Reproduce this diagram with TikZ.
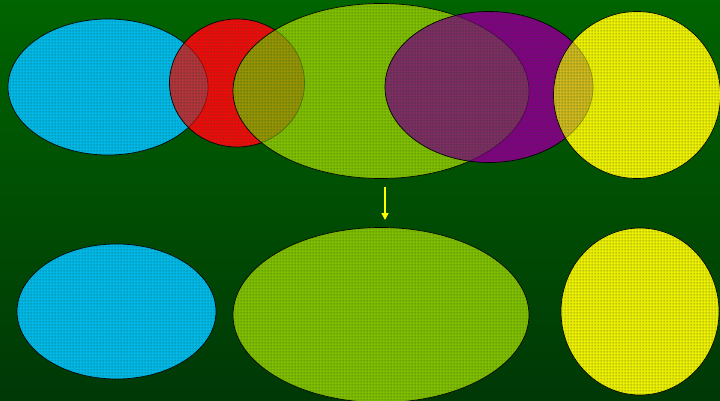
\documentclass[tikz,border=0pt]{standalone}
\usetikzlibrary{shapes.geometric,patterns.meta,arrows.meta,calc}

\definecolor{bgtop}{RGB}{0,100,0}
\definecolor{bgbot}{RGB}{0,56,6}
\definecolor{meshline}{RGB}{20,80,40}
\definecolor{cyanfill}{RGB}{0,185,235}
\definecolor{redfill}{RGB}{240,10,10}
\definecolor{greenfill}{RGB}{130,190,0}
\definecolor{purplefill}{RGB}{130,0,130}
\definecolor{yellowfill}{RGB}{240,240,0}
\definecolor{arrowyellow}{RGB}{255,255,0}

\pgfdeclarelayer{backdrop}
\pgfdeclarelayer{base}
\pgfsetlayers{backdrop,base,main}

% fine square mesh laid over every blob
\tikzdeclarepattern{
  name=mesh,
  type=uncolored,
  bounding box={(0,0) and (3pt,3pt)},
  tile size={(3pt,3pt)},
  code={
    \draw[line width=0.7pt] (0pt,1.5pt) -- (3pt,1.5pt);
    \draw[line width=0.7pt] (1.5pt,0pt) -- (1.5pt,3pt);
  }
}

\tikzset{
  blob/.style={ellipse, draw=black, line width=0.7pt, inner sep=0pt, outer sep=0pt,
    fill=#1, fill opacity=0.62, draw opacity=1,
    postaction={pattern=mesh, pattern color=meshline, fill opacity=0.4}},
  flow/.style={draw=arrowyellow, line width=1.4pt, -{Triangle[length=7pt,width=7pt]}}
}

\begin{document}
\begin{tikzpicture}[x=1pt,y=-1pt]
  \begin{pgfonlayer}{backdrop}
    \shade[top color=bgtop, bottom color=bgbot] (0,0) rectangle (720,401);
  \end{pgfonlayer}
  \useasboundingbox (0,0) rectangle (720,401);

  % upper row of overlapping sets
  \node[blob=cyanfill,   minimum width=200pt, minimum height=136pt] (c1) at (108,87) {};
  \node[blob=redfill,    minimum width=135pt, minimum height=128pt] (r1) at (237,83) {};
  \node[blob=greenfill,  minimum width=296pt, minimum height=175pt] (g1) at (381,91) {};
  \node[blob=purplefill, minimum width=208pt, minimum height=151pt] (p1) at (489,87) {};
  \node[blob=yellowfill, minimum width=167pt, minimum height=167pt] (y1) at (637,95) {};

  % transition arrow
  \coordinate (a1) at (385,187);
  \coordinate (a2) at (385,220);
  \draw[flow] (a1) -- (a2);

  % lower row of remaining sets
  \node[blob=cyanfill,   minimum width=199pt, minimum height=135pt] (c2) at (116.5,311.5) {};
  \node[blob=greenfill,  minimum width=296pt, minimum height=175pt] (g2) at (381,315) {};
  \node[blob=yellowfill, minimum width=158pt, minimum height=167pt] (y2) at (640,311.5) {};

  % solid underpaint, so each set keeps its full colour off the overlaps
  \begin{pgfonlayer}{base}
    \foreach \nm/\col in {c1/cyanfill, r1/redfill, g1/greenfill, p1/purplefill,
                          y1/yellowfill, c2/cyanfill, g2/greenfill, y2/yellowfill}{
      \fill[\col] let \p1=(\nm.east), \p2=(\nm.north), \p3=(\nm.center) in
        (\p3) ellipse [x radius={\x1-\x3}, y radius={\y2-\y3}];
    }
  \end{pgfonlayer}
\end{tikzpicture}
\end{document}
